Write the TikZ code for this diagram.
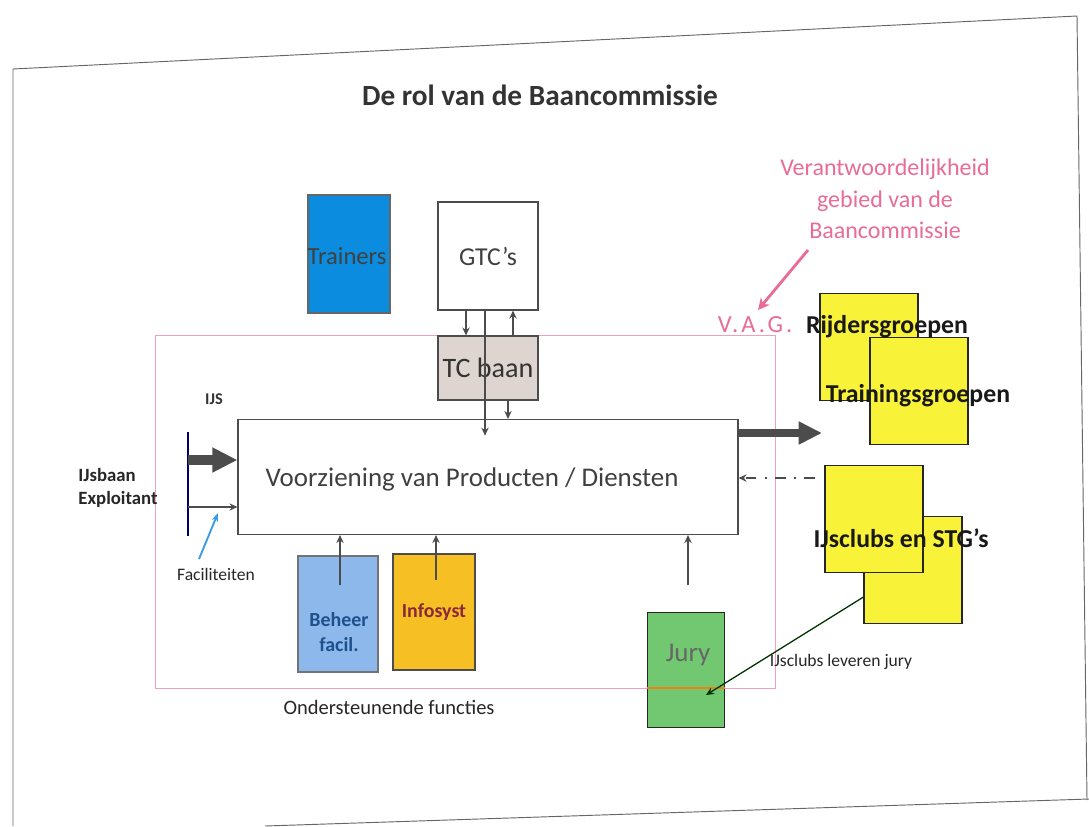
\documentclass[tikz,border=0pt]{standalone}
\usepackage{fontspec}
\setmainfont{Carlito}
\usetikzlibrary{arrows.meta}

\definecolor{trainblue}{RGB}{12,140,222}
\definecolor{beheerblue}{RGB}{140,184,236}
\definecolor{infoorange}{RGB}{246,192,36}
\definecolor{jurygreen}{RGB}{114,200,112}
\definecolor{grpyellow}{RGB}{248,242,56}
\definecolor{tcgray}{RGB}{222,212,208}
\definecolor{vagpink}{RGB}{232,108,150}
\definecolor{regionpink}{RGB}{240,160,184}
\definecolor{faciblue}{RGB}{58,156,232}

\begin{document}
\begin{tikzpicture}[x=0.03cm, y=-0.03cm,
        box/.style={rectangle, draw=black!70, line width=0.9pt, align=center, inner sep=2pt},
        grp/.style={box, draw=black!85, fill=grpyellow, minimum width=2.94cm, minimum height=3.2cm},
        arrow/.style={->, >={Stealth[length=2.4mm,width=2.2mm]}, draw=black!70, line width=1.1pt},
        fat/.style={-{Triangle[length=7.5mm,width=7mm]}, draw=black!70, line width=3mm},
        big/.style={font=\fontsize{23}{27}\selectfont},
        grptxt/.style={font=\fontsize{22}{26}\selectfont\bfseries, text=black!90},
        lbl/.style={font=\fontsize{13}{15}\selectfont, align=left}
    ]
    \useasboundingbox (0,0) rectangle (1089,826);

    % slide frame
    \draw[black!60, line width=0.8pt] (13,826) -- (13,69) -- (1077,16) -- (1087,800);
    \draw[black!60, line width=0.8pt] (265,826) -- (1089,799);

    \node[font=\fontsize{25}{29}\selectfont\bfseries, text=black!80] (title) at (540,95) {De rol van de Baancommissie};

    % verantwoordelijkheidsgebied
    \draw[regionpink, line width=0.8pt] (155,335) rectangle (775,688);
    \coordinate (regsw) at (155,688);

    \node[box, draw=black!60, fill=trainblue, minimum width=2.46cm, minimum height=3.54cm] (trainers) at (349,254) {};
    \node[font=\fontsize{21}{25}\selectfont, text=black!75] (trainerstxt) at (347,256) {Trainers};
    \node[box, fill=white, minimum width=3cm, minimum height=3.24cm, font=\fontsize{22}{26}\selectfont, text=black!75] (gtc) at (488,256) {GTC's};
    \node[box, fill=tcgray, minimum width=3cm, minimum height=1.92cm, font=\fontsize{24}{28}\selectfont, text=black!80] (tcbaan) at (488,368) {TC baan};
    \node[box, fill=white, minimum width=15cm, minimum height=3.45cm] (main) at (488,477) {};
    \node[big, text=black!75] (maintxt) at (472,479) {Voorziening van Producten / Diensten};

    \node[box, draw=black!55, fill=beheerblue, minimum width=2.4cm, minimum height=3.48cm] (beheer) at (338,614) {};
    \node[font=\fontsize{17}{21}\selectfont\bfseries, text={rgb,255:red,30;green,80;blue,140}, align=center] (beheertxt) at (339,632) {Beheer\\facil.};
    \node[box, fill=infoorange, minimum width=2.46cm, minimum height=3.48cm, font=\fontsize{17}{20}\selectfont\bfseries, text={rgb,255:red,140;green,40;blue,60}] (infosyst) at (434,612) {Infosyst};
    \node[box, draw=black!85, fill=jurygreen, minimum width=2.31cm, minimum height=3.45cm] (jury) at (686,670) {};
    \node[big, text=black!60] (jurytxt) at (688,655) {Jury};
    \draw[orange!80!brown, line width=1.2pt] (jury.west |- regsw) -- (jury.east |- regsw);

    \node[grp] (rijders) at (869,347) {};
    \node[grp] (trainings) at (919,391) {};
    \node[grptxt] (rijderstxt) at (887,327) {Rijdersgroepen};
    \node[grptxt] (trainingstxt) at (918,396) {Trainingsgroepen};
    \node[grp] (clubs2) at (913,570) {};
    \node[grp] (clubs1) at (874,519) {};
    \node[grptxt] (clubstxt) at (901,538) {IJsclubs en STG's};

    \node[lbl, font=\fontsize{16}{19}\selectfont\bfseries, text=black!85] (exploitant) at (118,488) {IJsbaan\\Exploitant};
    \node[lbl, font=\fontsize{14}{16}\selectfont\bfseries, text=black!80] (ijs) at (214,399) {IJS};
    \node[lbl, font=\fontsize{15}{17}\selectfont, text=black!85] (faciliteiten) at (216,574) {Faciliteiten};
    \node[lbl, font=\fontsize{17.5}{21}\selectfont, text=black!85] (ondersteunend) at (389,707) {Ondersteunende functies};
    \node[lbl, font=\fontsize{15}{17}\selectfont, text=black!85] (leveren) at (841,662) {IJsclubs leveren jury};
    \node[font=\fontsize{21}{25}\selectfont\addfontfeature{LetterSpace=12}, text=vagpink] (vag) at (755,325) {V.A.G.};
    \node[font=\fontsize{20.5}{27}\selectfont, text=vagpink, align=center] (verantw) at (885,199) {Verantwoordelijkheid\\gebied van de\\Baancommissie};

    % exploitant levert ijs en faciliteiten
    \coordinate (ijstop) at (188,432);
    \coordinate (ijsbot) at (188,536);
    \coordinate (ijsin) at (188,460);
    \coordinate (facin) at (188,507);
    \draw[blue!40!black, line width=1.2pt] (ijstop) -- (ijsbot);
    \draw[fat] (ijsin) -- (ijsin -| main.west);
    \draw[arrow] (facin) -- (facin -| main.west);
    \coordinate (facitail) at (199,559);
    \coordinate (facitip) at (218,513);
    \draw[->, >={Stealth[length=2.6mm]}, faciblue, line width=1.6pt] (facitail) -- (facitip);

    % gtc en tc baan
    \draw[arrow] ([xshift=-0.66cm]gtc.south) -- ([xshift=-0.66cm]tcbaan.north);
    \draw[arrow] ([xshift=0.75cm]tcbaan.north) -- ([xshift=0.75cm]gtc.south);
    \draw[arrow] ([xshift=-0.09cm]gtc.south) -- ([xshift=-0.09cm, yshift=-0.5cm]main.north);
    \draw[arrow] ([xshift=0.6cm]tcbaan.south) -- ([xshift=0.6cm]main.north);

    % ondersteunende functies
    \coordinate (beheerin) at (340,585);
    \coordinate (infoin) at (436,580);
    \coordinate (juryin) at (688,585);
    \draw[arrow] (beheerin) -- (beheerin |- main.south);
    \draw[arrow] (infoin) -- (infoin |- main.south);
    \draw[arrow] (juryin) -- (juryin |- main.south);

    % uitvoer en clubs
    \coordinate (outtip) at (822,433);
    \draw[fat, line width=2.6mm, -{Triangle[length=7mm,width=6.5mm]}] (outtip -| main.east) -- (outtip);
    \coordinate (clubstail) at (815,478);
    \draw[arrow, line width=1.6pt, dash pattern=on 9pt off 7pt on 2pt off 7pt] (clubstail) -- (clubstail -| main.east);
    \coordinate (jurytip) at (706,695);
    \draw[arrow, draw=black!80!green] ([yshift=-0.81cm]clubs2.west) -- (jurytip);

    \coordinate (pinktail) at (808,250);
    \coordinate (vagtip) at (758,310);
    \draw[->, >={Stealth[length=3.5mm,width=3.5mm]}, vagpink, line width=2.4pt] (pinktail) -- (vagtip);
\end{tikzpicture}
\end{document}
